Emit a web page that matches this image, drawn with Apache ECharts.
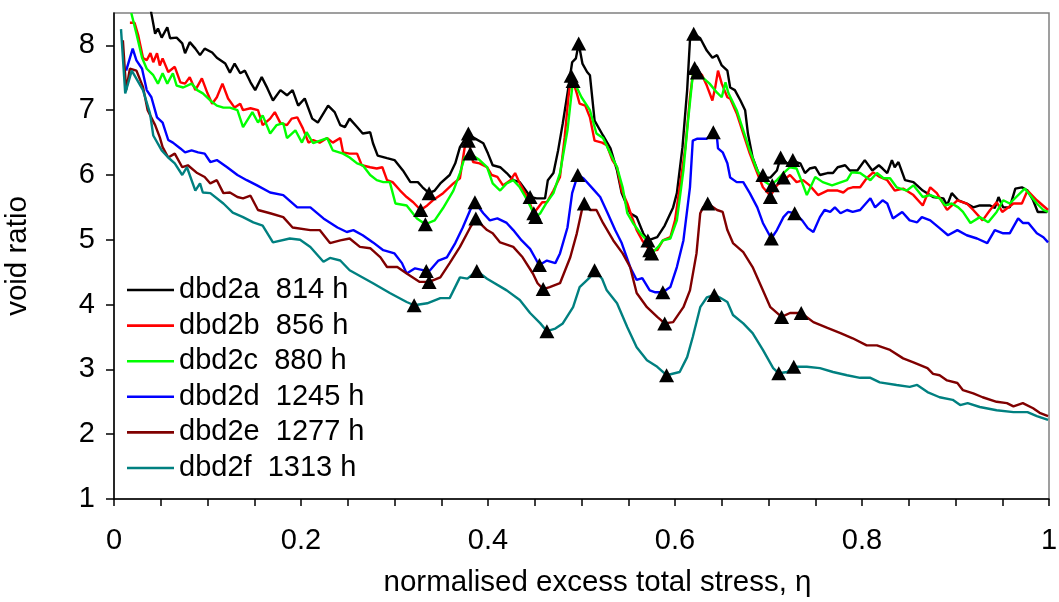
<!DOCTYPE html>
<html>
<head>
<meta charset="utf-8">
<script src="https://cdn.jsdelivr.net/npm/echarts@6/dist/echarts.min.js"></script>
<style>html,body{margin:0;padding:0;background:#fff;}#c{width:1059px;height:602px;}</style>
</head>
<body>
<div id="c"></div>
<script>
const seriesNames = ['dbd2a  814 h','dbd2b  856 h','dbd2c  880 h','dbd2d  1245 h','dbd2e  1277 h','dbd2f  1313 h'];
const seriesColors = ['#000000','#ff0000','#00ff00','#0000ff','#800000','#008080'];
const xTicks = [0,0.2,0.4,0.6,0.8,1];
const yTicks = [1,2,3,4,5,6,7,8];

const dbd2a = [[0.037,8.75],[0.040,8.49],[0.044,8.18],[0.047,8.26],[0.051,8.12],[0.057,8.28],[0.060,8.11],[0.067,8.12],[0.073,8.03],[0.076,7.88],[0.081,8.05],[0.087,7.95],[0.092,7.85],[0.097,7.95],[0.105,7.89],[0.110,7.81],[0.119,7.72],[0.124,7.58],[0.129,7.72],[0.135,7.57],[0.140,7.61],[0.146,7.43],[0.151,7.31],[0.158,7.51],[0.164,7.34],[0.170,7.15],[0.178,7.31],[0.185,7.23],[0.191,7.31],[0.197,7.07],[0.204,7.18],[0.212,6.87],[0.218,6.81],[0.229,7.07],[0.236,6.97],[0.242,6.77],[0.247,6.74],[0.252,6.87],[0.260,6.74],[0.266,6.64],[0.274,6.66],[0.277,6.49],[0.282,6.30],[0.292,6.26],[0.300,6.23],[0.309,6.07],[0.317,5.89],[0.325,5.89],[0.330,5.81],[0.337,5.72],[0.343,5.76],[0.349,5.87],[0.359,6.00],[0.365,6.18],[0.370,6.43],[0.379,6.64],[0.384,6.58],[0.395,6.49],[0.400,6.33],[0.405,6.15],[0.413,6.12],[0.420,6.03],[0.427,5.92],[0.434,5.89],[0.442,5.73],[0.445,5.66],[0.452,5.64],[0.461,5.64],[0.464,5.92],[0.470,6.03],[0.475,6.38],[0.480,6.80],[0.486,7.35],[0.490,7.74],[0.494,7.80],[0.497,8.03],[0.501,7.72],[0.506,7.59],[0.509,7.54],[0.514,6.84],[0.523,6.61],[0.531,6.41],[0.538,6.07],[0.543,5.72],[0.552,5.41],[0.559,5.35],[0.566,5.10],[0.571,4.99],[0.581,5.04],[0.589,5.22],[0.598,5.50],[0.602,5.72],[0.608,6.43],[0.613,7.31],[0.616,8.08],[0.620,8.18],[0.627,8.11],[0.634,7.92],[0.640,7.81],[0.645,7.85],[0.650,7.69],[0.656,7.61],[0.659,7.35],[0.664,7.31],[0.670,7.15],[0.675,7.00],[0.678,6.64],[0.683,6.27],[0.689,6.04],[0.694,5.96],[0.702,5.96],[0.709,6.07],[0.713,6.27],[0.720,6.18],[0.727,6.21],[0.734,6.18],[0.739,6.03],[0.744,6.10],[0.750,6.12],[0.755,6.00],[0.763,6.03],[0.769,6.03],[0.774,6.12],[0.782,6.15],[0.787,6.07],[0.795,6.07],[0.803,6.23],[0.811,6.07],[0.818,6.15],[0.822,6.10],[0.827,6.03],[0.832,6.23],[0.835,6.12],[0.839,6.20],[0.846,5.92],[0.855,5.89],[0.865,5.76],[0.876,5.66],[0.887,5.64],[0.891,5.53],[0.896,5.72],[0.903,5.61],[0.912,5.56],[0.919,5.50],[0.926,5.53],[0.937,5.53],[0.942,5.49],[0.946,5.66],[0.951,5.50],[0.958,5.50],[0.964,5.79],[0.971,5.81],[0.977,5.76],[0.983,5.61],[0.988,5.43],[0.998,5.43]];

const dbd2b = [[0.017,8.35],[0.022,8.35],[0.026,8.15],[0.031,7.81],[0.035,7.77],[0.039,7.88],[0.042,7.74],[0.046,7.88],[0.049,7.69],[0.052,7.80],[0.058,7.59],[0.065,7.67],[0.071,7.43],[0.076,7.41],[0.081,7.51],[0.087,7.31],[0.094,7.49],[0.100,7.26],[0.105,7.10],[0.110,7.20],[0.116,7.41],[0.122,7.18],[0.129,7.04],[0.135,7.10],[0.138,7.00],[0.146,7.03],[0.154,7.00],[0.159,6.77],[0.167,6.87],[0.172,6.97],[0.178,6.80],[0.185,6.77],[0.190,6.87],[0.196,6.89],[0.202,6.72],[0.208,6.50],[0.213,6.54],[0.220,6.50],[0.228,6.57],[0.234,6.50],[0.242,6.57],[0.245,6.35],[0.252,6.33],[0.260,6.33],[0.265,6.15],[0.274,6.12],[0.281,6.10],[0.287,6.12],[0.292,5.92],[0.298,5.89],[0.306,5.76],[0.313,5.66],[0.320,5.58],[0.328,5.46],[0.335,5.53],[0.341,5.61],[0.352,5.72],[0.363,5.87],[0.370,5.95],[0.375,6.42],[0.379,6.53],[0.384,6.20],[0.391,6.18],[0.399,6.12],[0.404,6.00],[0.410,5.97],[0.416,5.84],[0.424,5.92],[0.429,6.03],[0.434,5.87],[0.442,5.66],[0.449,5.41],[0.458,5.58],[0.463,5.58],[0.470,5.76],[0.477,5.97],[0.482,6.58],[0.486,7.20],[0.489,7.53],[0.495,7.26],[0.498,7.10],[0.504,7.07],[0.509,6.89],[0.514,6.53],[0.522,6.50],[0.527,6.46],[0.533,6.23],[0.538,6.12],[0.543,5.76],[0.549,5.56],[0.554,5.35],[0.559,5.15],[0.565,4.99],[0.573,4.84],[0.581,4.84],[0.587,4.99],[0.595,5.04],[0.600,5.30],[0.605,5.81],[0.611,6.42],[0.616,7.20],[0.619,7.54],[0.621,7.65],[0.629,7.54],[0.634,7.38],[0.640,7.15],[0.643,7.35],[0.646,7.61],[0.650,7.41],[0.656,7.20],[0.659,7.18],[0.666,6.95],[0.673,6.64],[0.680,6.33],[0.688,6.03],[0.694,5.81],[0.702,5.68],[0.709,5.84],[0.716,5.92],[0.723,6.00],[0.730,5.89],[0.737,5.92],[0.744,5.84],[0.753,5.69],[0.763,5.76],[0.774,5.76],[0.780,5.73],[0.785,5.79],[0.790,5.81],[0.798,5.81],[0.805,5.95],[0.812,6.04],[0.819,5.97],[0.827,5.92],[0.835,5.76],[0.844,5.79],[0.855,5.69],[0.865,5.53],[0.873,5.81],[0.880,5.72],[0.891,5.46],[0.902,5.61],[0.912,5.56],[0.919,5.46],[0.929,5.30],[0.937,5.46],[0.944,5.58],[0.950,5.43],[0.962,5.56],[0.971,5.56],[0.977,5.76],[0.987,5.61],[0.999,5.46]];

const dbd2c = [[0.0185,8.50],[0.024,8.18],[0.030,7.81],[0.035,7.64],[0.042,7.54],[0.047,7.41],[0.052,7.57],[0.057,7.41],[0.063,7.57],[0.067,7.38],[0.074,7.35],[0.083,7.41],[0.089,7.31],[0.095,7.26],[0.103,7.15],[0.110,7.07],[0.117,7.04],[0.124,7.04],[0.132,7.00],[0.138,6.74],[0.148,6.97],[0.154,6.81],[0.159,6.92],[0.167,6.64],[0.174,6.77],[0.181,6.80],[0.185,6.57],[0.194,6.69],[0.201,6.50],[0.206,6.66],[0.213,6.49],[0.228,6.57],[0.234,6.38],[0.245,6.33],[0.252,6.27],[0.260,6.18],[0.266,6.15],[0.274,6.00],[0.281,5.92],[0.288,5.89],[0.295,5.89],[0.301,5.56],[0.313,5.53],[0.324,5.33],[0.333,5.24],[0.343,5.30],[0.352,5.49],[0.363,5.76],[0.370,6.03],[0.375,6.27],[0.381,6.33],[0.391,6.23],[0.399,6.12],[0.405,5.87],[0.413,5.76],[0.420,5.87],[0.427,5.92],[0.434,5.81],[0.442,5.61],[0.451,5.35],[0.456,5.41],[0.463,5.58],[0.470,5.72],[0.477,6.03],[0.485,6.69],[0.490,7.34],[0.491,7.45],[0.495,7.35],[0.500,7.20],[0.509,7.00],[0.516,6.64],[0.523,6.57],[0.531,6.33],[0.538,6.12],[0.544,5.81],[0.549,5.41],[0.555,5.26],[0.563,5.10],[0.570,4.99],[0.575,4.79],[0.582,4.89],[0.587,4.99],[0.595,5.02],[0.602,5.30],[0.609,6.07],[0.614,6.84],[0.619,7.54],[0.624,7.58],[0.630,7.50],[0.637,7.41],[0.645,7.27],[0.650,7.20],[0.654,7.43],[0.657,7.27],[0.666,7.00],[0.673,6.69],[0.680,6.38],[0.688,6.07],[0.694,5.92],[0.702,5.84],[0.709,5.92],[0.716,6.03],[0.723,6.12],[0.730,6.10],[0.735,5.92],[0.741,5.69],[0.750,5.97],[0.758,5.89],[0.768,5.84],[0.774,5.87],[0.784,5.92],[0.789,6.04],[0.798,6.03],[0.809,5.92],[0.816,6.03],[0.823,5.95],[0.830,5.95],[0.837,5.81],[0.848,5.76],[0.855,5.84],[0.865,5.66],[0.873,5.69],[0.883,5.64],[0.889,5.53],[0.896,5.56],[0.903,5.50],[0.908,5.43],[0.916,5.26],[0.926,5.35],[0.935,5.27],[0.944,5.43],[0.951,5.61],[0.958,5.56],[0.974,5.79],[0.987,5.56],[0.994,5.46],[0.999,5.43]];

const dbd2d = [[0.013,7.61],[0.020,7.95],[0.024,7.77],[0.030,7.64],[0.035,7.31],[0.040,7.20],[0.046,6.89],[0.052,6.81],[0.058,6.54],[0.063,6.50],[0.071,6.41],[0.076,6.35],[0.083,6.38],[0.090,6.35],[0.097,6.33],[0.103,6.20],[0.110,6.23],[0.121,6.12],[0.132,6.00],[0.142,5.92],[0.153,5.84],[0.167,5.73],[0.181,5.69],[0.196,5.50],[0.210,5.50],[0.224,5.33],[0.239,5.19],[0.249,5.12],[0.256,5.15],[0.266,5.07],[0.277,4.96],[0.288,4.84],[0.300,4.79],[0.308,4.64],[0.313,4.48],[0.322,4.56],[0.334,4.52],[0.338,4.53],[0.347,4.68],[0.356,4.73],[0.365,4.95],[0.373,5.19],[0.381,5.46],[0.386,5.58],[0.395,5.41],[0.402,5.30],[0.410,5.33],[0.420,5.26],[0.427,5.15],[0.436,4.99],[0.445,4.86],[0.452,4.68],[0.455,4.61],[0.463,4.68],[0.472,4.64],[0.477,4.79],[0.485,5.19],[0.490,5.72],[0.496,6.00],[0.502,5.95],[0.512,5.79],[0.520,5.66],[0.528,5.41],[0.536,5.15],[0.543,4.95],[0.552,4.58],[0.559,4.38],[0.565,4.41],[0.573,4.22],[0.579,4.19],[0.587,4.19],[0.595,4.27],[0.602,4.58],[0.609,4.99],[0.616,5.81],[0.619,6.53],[0.624,6.56],[0.634,6.56],[0.641,6.66],[0.645,6.56],[0.646,6.41],[0.651,6.35],[0.656,6.18],[0.659,5.96],[0.666,5.89],[0.673,5.89],[0.680,5.72],[0.688,5.50],[0.694,5.26],[0.703,5.02],[0.709,5.15],[0.716,5.35],[0.721,5.43],[0.728,5.41],[0.736,5.30],[0.742,5.18],[0.748,5.12],[0.755,5.35],[0.760,5.46],[0.766,5.43],[0.771,5.50],[0.777,5.41],[0.784,5.46],[0.790,5.43],[0.798,5.46],[0.809,5.64],[0.814,5.50],[0.822,5.61],[0.827,5.56],[0.833,5.33],[0.843,5.43],[0.851,5.30],[0.859,5.27],[0.864,5.35],[0.873,5.30],[0.883,5.18],[0.892,5.07],[0.902,5.15],[0.912,5.07],[0.923,5.02],[0.934,4.95],[0.942,5.15],[0.951,5.10],[0.958,5.10],[0.967,5.33],[0.972,5.26],[0.978,5.26],[0.987,5.10],[0.994,5.04],[0.999,4.96]];

const dbd2e = [[0.0095,8.08],[0.013,7.31],[0.017,7.64],[0.024,7.61],[0.031,7.36],[0.036,7.00],[0.044,6.77],[0.049,6.58],[0.052,6.43],[0.058,6.27],[0.065,6.33],[0.073,6.12],[0.079,6.15],[0.089,6.03],[0.097,5.97],[0.103,5.87],[0.110,5.92],[0.117,5.72],[0.124,5.73],[0.132,5.66],[0.138,5.64],[0.146,5.68],[0.154,5.46],[0.167,5.41],[0.181,5.35],[0.191,5.19],[0.210,5.15],[0.220,5.15],[0.231,4.95],[0.242,4.99],[0.252,5.02],[0.263,4.89],[0.274,4.87],[0.285,4.73],[0.292,4.58],[0.303,4.58],[0.313,4.48],[0.327,4.35],[0.337,4.35],[0.349,4.42],[0.359,4.64],[0.370,4.89],[0.381,5.19],[0.387,5.33],[0.391,5.26],[0.399,5.15],[0.405,5.10],[0.413,4.96],[0.427,4.89],[0.437,4.73],[0.448,4.48],[0.453,4.33],[0.459,4.24],[0.466,4.27],[0.477,4.33],[0.488,4.73],[0.495,5.10],[0.501,5.50],[0.503,5.56],[0.509,5.46],[0.516,5.46],[0.523,5.26],[0.534,4.99],[0.544,4.79],[0.552,4.58],[0.559,4.18],[0.570,3.96],[0.581,3.81],[0.589,3.71],[0.598,3.73],[0.609,3.96],[0.616,4.22],[0.623,4.79],[0.627,5.41],[0.630,5.50],[0.635,5.56],[0.645,5.46],[0.651,5.43],[0.656,5.15],[0.662,4.95],[0.673,4.81],[0.683,4.58],[0.694,4.22],[0.702,3.96],[0.714,3.81],[0.723,3.87],[0.735,3.87],[0.748,3.73],[0.763,3.64],[0.777,3.56],[0.790,3.48],[0.805,3.37],[0.816,3.37],[0.830,3.30],[0.844,3.17],[0.855,3.11],[0.870,3.02],[0.876,2.93],[0.883,2.91],[0.891,2.83],[0.902,2.79],[0.908,2.68],[0.919,2.63],[0.929,2.57],[0.944,2.50],[0.955,2.48],[0.962,2.43],[0.972,2.48],[0.983,2.40],[0.990,2.33],[0.999,2.28]];

const dbd2f = [[0.0075,8.25],[0.012,7.26],[0.019,7.61],[0.031,7.31],[0.0385,6.95],[0.042,6.61],[0.051,6.38],[0.058,6.27],[0.065,6.18],[0.073,6.00],[0.078,6.12],[0.087,5.76],[0.092,5.87],[0.095,5.73],[0.103,5.72],[0.117,5.56],[0.127,5.42],[0.138,5.35],[0.149,5.27],[0.159,5.22],[0.170,4.96],[0.188,5.02],[0.199,5.00],[0.210,4.89],[0.224,4.66],[0.231,4.72],[0.242,4.68],[0.252,4.53],[0.277,4.33],[0.295,4.18],[0.313,4.04],[0.321,3.99],[0.335,4.02],[0.349,4.10],[0.359,4.10],[0.370,4.42],[0.378,4.40],[0.388,4.52],[0.399,4.40],[0.420,4.22],[0.434,4.07],[0.445,3.87],[0.456,3.71],[0.463,3.59],[0.472,3.63],[0.480,3.71],[0.491,3.96],[0.498,4.27],[0.509,4.42],[0.514,4.53],[0.522,4.40],[0.527,4.22],[0.538,4.02],[0.549,3.65],[0.559,3.34],[0.570,3.14],[0.581,3.04],[0.591,2.91],[0.605,2.96],[0.613,3.19],[0.619,3.50],[0.627,3.96],[0.634,4.11],[0.642,4.15],[0.648,4.11],[0.656,4.04],[0.662,3.84],[0.673,3.71],[0.683,3.56],[0.694,3.30],[0.705,3.02],[0.711,2.94],[0.720,2.96],[0.727,3.04],[0.741,3.04],[0.755,3.02],[0.769,2.96],[0.784,2.91],[0.798,2.87],[0.809,2.87],[0.819,2.80],[0.837,2.76],[0.851,2.73],[0.859,2.76],[0.870,2.65],[0.883,2.57],[0.897,2.53],[0.905,2.45],[0.913,2.48],[0.926,2.42],[0.944,2.37],[0.962,2.34],[0.977,2.34],[0.987,2.28],[0.999,2.22]];

const markers = [[0.337,5.72],[0.328,5.46],[0.333,5.24],[0.334,4.52],[0.337,4.35],[0.321,3.99],
[0.379,6.64],[0.379,6.53],[0.381,6.33],[0.386,5.58],[0.387,5.33],[0.388,4.52],
[0.445,5.66],[0.449,5.41],[0.451,5.35],[0.455,4.61],[0.459,4.24],[0.463,3.59],
[0.497,8.03],[0.489,7.53],[0.491,7.45],[0.496,6.00],[0.503,5.56],[0.514,4.53],
[0.571,4.99],[0.573,4.84],[0.575,4.79],[0.587,4.19],[0.589,3.71],[0.591,2.91],
[0.620,8.18],[0.621,7.65],[0.624,7.58],[0.641,6.66],[0.635,5.56],[0.642,4.15],
[0.694,6.00],[0.704,5.84],[0.702,5.66],[0.713,6.27],[0.716,5.96],[0.726,6.23],[0.703,5.02],[0.728,5.41],[0.714,3.81],[0.735,3.87],[0.711,2.94],[0.727,3.04]];

const allSeries = [dbd2a, dbd2b, dbd2c, dbd2d, dbd2e, dbd2f];
const FONT = "'Liberation Sans', Arial, sans-serif";

const chart = echarts.init(document.getElementById('c'), null, {renderer:'canvas'});
const series = allSeries.map((d, i) => ({
  name: seriesNames[i],
  type: 'line',
  data: d,
  symbol: 'none',
  showSymbol: false,
  clip: true,
  z: 2 + i,
  lineStyle: {color: seriesColors[i], width: 2.4},
  itemStyle: {color: seriesColors[i]}
}));
series.push({
  name: 'markers',
  type: 'scatter',
  data: markers,
  symbol: 'triangle',
  symbolSize: [15, 14],
  z: 20,
  itemStyle: {color: '#000', opacity: 1}
});

chart.setOption({
  animation: false,
  backgroundColor: '#fff',
  textStyle: {fontFamily: FONT},
  grid: {left: 114, right: 10, top: 13, bottom: 103, containLabel: false, outerBoundsMode: 'none', show: true, borderColor: '#808080', borderWidth: 1.5, backgroundColor: 'transparent'},
  legend: {
    data: seriesNames,
    orient: 'vertical',
    left: 127,
    top: 275,
    padding: 0,
    icon: 'rect',
    itemWidth: 47,
    itemHeight: 2.6,
    itemGap: 5.6,
    selectedMode: false,
    textStyle: {fontSize: 29, color: '#000', fontFamily: FONT, lineHeight: 30}
  },
  xAxis: {
    type: 'value', min: 0, max: 1, interval: 0.2,
    name: 'normalised excess total stress, η',
    nameLocation: 'middle', nameGap: 69,
    nameTextStyle: {fontSize: 29.5, color: '#000', fontFamily: FONT, padding: [0, 0, 0, 32]},
    axisLine: {show: true, onZero: false, lineStyle: {color: '#000', width: 1.5}},
    axisTick: {show: true, length: 7, lineStyle: {color: '#000', width: 1.5}},
    minorTick: {show: true, splitNumber: 4, length: 7, lineStyle: {color: '#000', width: 1.5}},
    splitLine: {show: false},
    axisLabel: {fontSize: 29, color: '#000', fontFamily: FONT, margin: 27, customValues: xTicks}
  },
  yAxis: {
    type: 'value', min: 1, max: 8.5, interval: 1,
    name: 'void ratio',
    nameLocation: 'middle', nameGap: 81,
    nameTextStyle: {fontSize: 29.5, color: '#000', fontFamily: FONT},
    axisLine: {show: true, onZero: false, lineStyle: {color: '#000', width: 1.5}},
    axisTick: {show: true, length: 8, lineStyle: {color: '#000', width: 1.5}, customValues: yTicks},
    splitLine: {show: false},
    axisLabel: {fontSize: 29, color: '#000', fontFamily: FONT, margin: 19, customValues: yTicks}
  },
  series: series
});
</script>
</body>
</html>
